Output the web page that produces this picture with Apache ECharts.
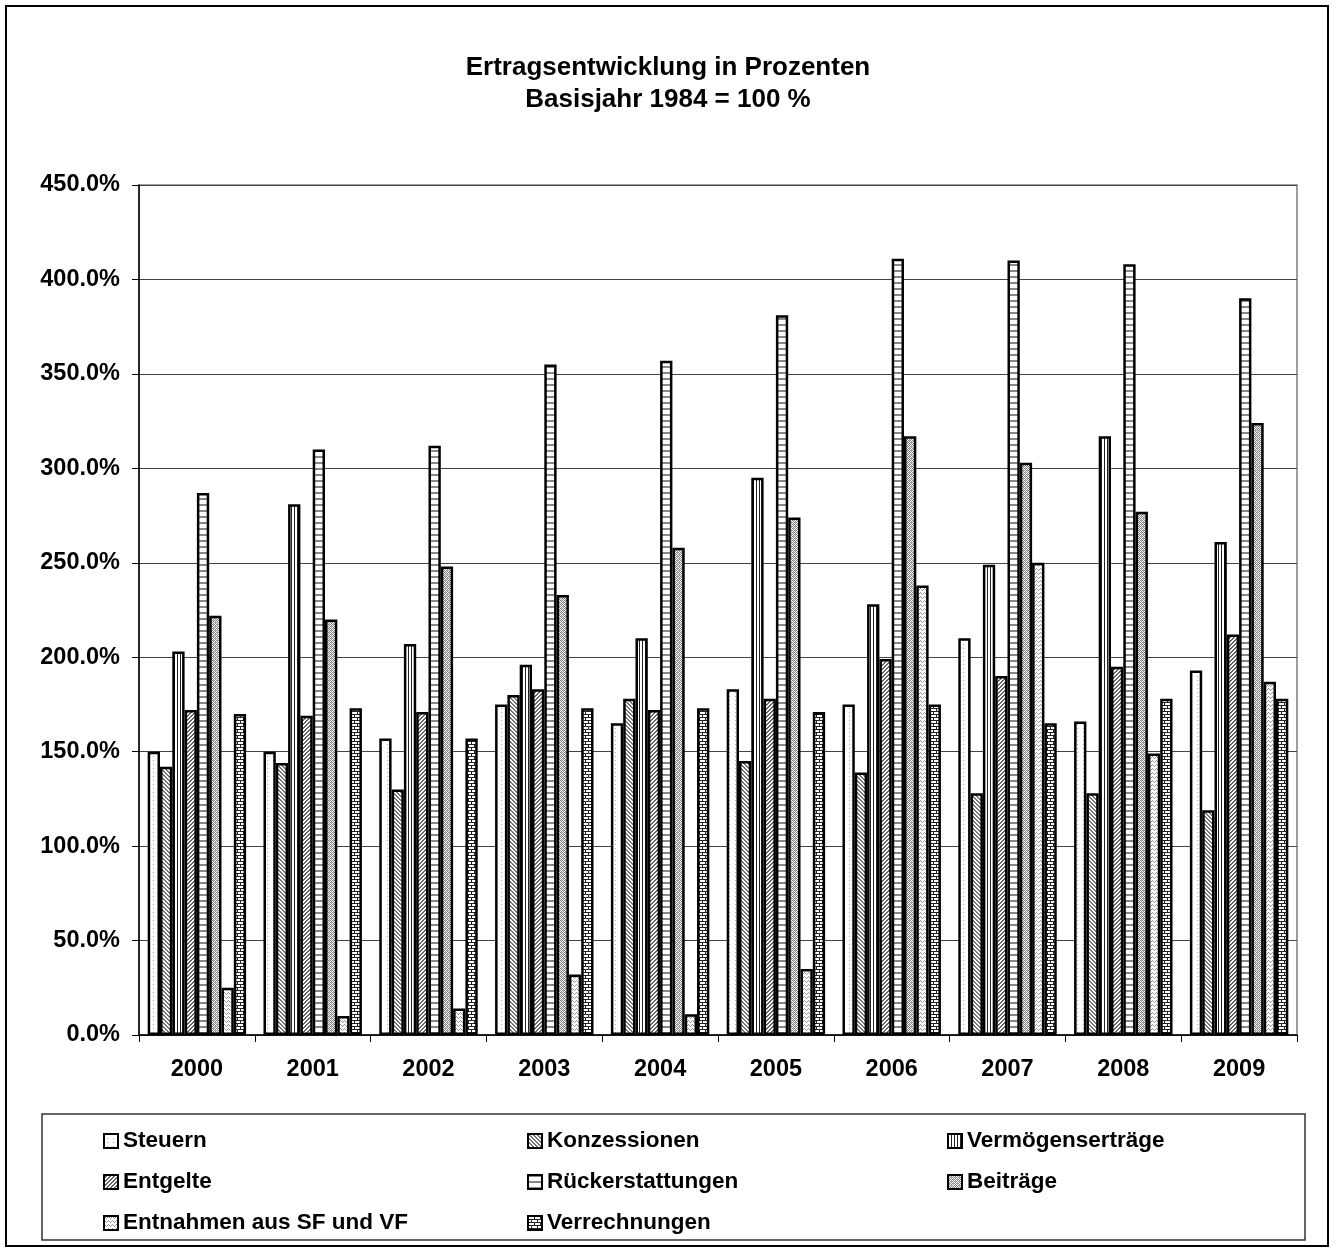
<!DOCTYPE html>
<html>
<head>
<meta charset="utf-8">
<script src="https://cdn.jsdelivr.net/npm/echarts@6/dist/echarts.min.js"></script>
<style>
html,body{margin:0;padding:0;background:#fff;}
#chart{width:1336px;height:1251px;}
</style>
</head>
<body>
<div id="chart"></div>
<script>
// ---- data ----
const years = ['2000','2001','2002','2003','2004','2005','2006','2007','2008','2009'];
const steuern          = [150, 150, 157, 175, 165, 183, 175, 210, 166, 193];
const konzessionen     = [142, 144, 130, 180, 178, 145, 139, 128, 128, 119];
const vermoegen        = [203, 281, 207, 196, 210, 295, 228, 249, 317, 261];
const entgelte         = [172, 169, 171, 183, 172, 178, 199, 190, 195, 212];
const rueckerstattung  = [287, 310, 312, 355, 357, 381, 411, 410, 408, 390];
const beitraege        = [222, 220, 248, 233, 258, 274, 317, 303, 277, 324];
const entnahmen        = [25, 10, 14, 32, 11, 35, 238, 250, 149, 187];
const verrechnungen    = [170, 173, 157, 173, 173, 171, 175, 165, 178, 178];
const seriesNames = ['Steuern','Konzessionen','Vermögenserträge','Entgelte','Rückerstattungen','Beiträge','Entnahmen aus SF und VF','Verrechnungen'];
const yTicks = {min: 0, max: 450, interval: 50};

// ---- patterns ----
function pat(w, h, draw) {
  const c = document.createElement('canvas');
  c.width = w; c.height = h;
  const ctx = c.getContext('2d');
  ctx.fillStyle = '#fff'; ctx.fillRect(0, 0, w, h);
  draw(ctx);
  return {image: c, repeat: 'repeat'};
}
function px(ctx, col, pts) { ctx.fillStyle = col; pts.forEach(p => ctx.fillRect(p[0], p[1], p[2] || 1, p[3] || 1)); }

const patterns = [
  // Steuern: sparse dotted
  pat(6, 4, ctx => px(ctx, '#aaa', [[3,0]])),
  // Konzessionen: diagonal hatch "\"
  pat(4, 4, ctx => px(ctx, '#777', [[0,0],[1,1],[2,2],[3,3],[1,0],[2,1],[3,2],[0,3]])),
  // Vermögenserträge: vertical stripes
  pat(3, 1, ctx => px(ctx, '#222', [[0,0]])),
  // Entgelte: diagonal hatch "/" darker
  pat(4, 4, ctx => px(ctx, '#666', [[3,0],[2,1],[1,2],[0,3],[2,0],[1,1],[0,2],[3,3]])),
  // Rückerstattungen: horizontal lines
  pat(1, 6, ctx => px(ctx, '#888', [[0,0,1,2]])),
  // Beiträge: fine checker
  pat(4, 4, ctx => { px(ctx, '#888', [[0,0],[2,0],[1,1],[3,1],[0,2],[2,2],[1,3],[3,3]]); px(ctx, '#bbb', [[1,0],[3,2]]); }),
  // Entnahmen: light sparse wavy
  pat(4, 4, ctx => px(ctx, '#999', [[0,0],[1,1],[2,2],[3,1]])),
  // Verrechnungen: brick
  pat(6, 6, ctx => { px(ctx, '#222', [[0,0,6,1],[0,3,6,1],[0,1,1,2],[3,4,1,2]]); })
];

const seriesData = [steuern, konzessionen, vermoegen, entgelte, rueckerstattung, beitraege, entnahmen, verrechnungen];

const FONT = "'Liberation Sans', Arial, sans-serif";

const series = seriesNames.map((n, i) => ({
  name: n,
  type: 'bar',
  data: seriesData[i],
  barGap: '0%',
  barCategoryGap: '15%',
  itemStyle: {color: patterns[i], borderColor: '#000', borderWidth: 2.5},
  emphasis: {disabled: true}
}));

const legendBase = {
  orient: 'vertical',
  itemWidth: 14, itemHeight: 14,
  itemGap: 17,
  selectedMode: false,
  icon: 'rect',
  itemStyle: {borderWidth: 2},
  textStyle: {fontFamily: FONT, fontWeight: 'bold', fontSize: 22.5, color: '#000', lineHeight: 24, padding: [0,0,0,0]},
  top: 1124
};

const chart = echarts.init(document.getElementById('chart'), null, {renderer: 'canvas'});
chart.setOption({
  animation: false,
  backgroundColor: '#fff',
  title: {
    text: 'Ertragsentwicklung in Prozenten\nBasisjahr 1984 = 100 %',
    left: 'center', top: 47,
    textStyle: {fontFamily: FONT, fontWeight: 'bold', fontSize: 26, lineHeight: 32, color: '#000'}
  },
  grid: {left: 139, right: 39, top: 185, bottom: 216, show: true, borderColor: '#808080', borderWidth: 1.5, containLabel: false},
  xAxis: {
    type: 'category', data: years,
    axisLine: {lineStyle: {color: '#000', width: 1.5}},
    axisTick: {show: true, length: 7, lineStyle: {color: '#000', width: 1}},
    axisLabel: {fontFamily: FONT, fontWeight: 'bold', fontSize: 23.5, color: '#000', margin: 23}
  },
  yAxis: {
    type: 'value', min: yTicks.min, max: yTicks.max, interval: yTicks.interval,
    axisLine: {show: true, lineStyle: {color: '#000', width: 1.5}},
    axisTick: {show: true, length: 7, lineStyle: {color: '#000', width: 1}},
    splitLine: {lineStyle: {color: '#444', width: 1.2}},
    axisLabel: {fontFamily: FONT, fontWeight: 'bold', fontSize: 23.5, color: '#000', margin: 19,
      formatter: v => v.toFixed(1) + '%'}
  },
  legend: [
    Object.assign({}, legendBase, {left: 98, data: ['Steuern','Entgelte','Entnahmen aus SF und VF']}),
    Object.assign({}, legendBase, {left: 522, data: ['Konzessionen','Rückerstattungen','Verrechnungen']}),
    Object.assign({}, legendBase, {left: 942, data: ['Vermögenserträge','Beiträge']})
  ],
  graphic: [
    {type: 'rect', shape: {x: 6, y: 6, width: 1322, height: 1240}, style: {fill: null, stroke: '#000', lineWidth: 2}, silent: true},
    {type: 'rect', shape: {x: 42, y: 1114, width: 1263, height: 126}, style: {fill: null, stroke: '#333', lineWidth: 1.5}, silent: true}
  ],
  series: series
});
</script>
</body>
</html>
